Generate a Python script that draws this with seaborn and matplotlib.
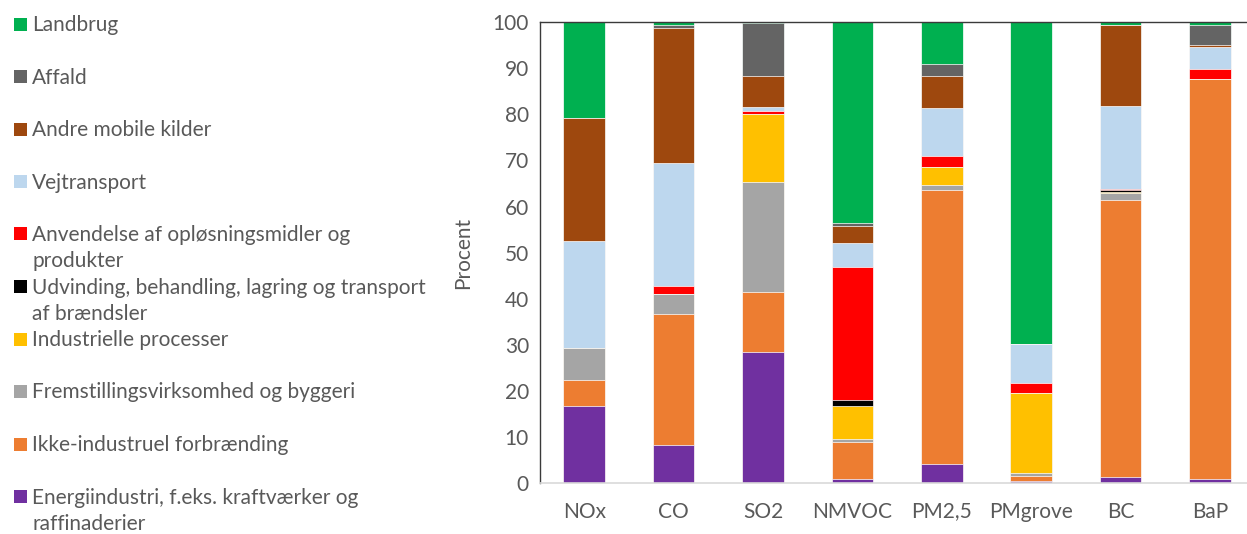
import numpy as np
import pandas as pd
import matplotlib
matplotlib.use("Agg")
import matplotlib.pyplot as plt
from matplotlib.patches import Rectangle
import seaborn as sns

# Pollutants on the x axis
pollutants = ["NOx", "CO", "SO2", "NMVOC", "PM2,5", "PMgrove", "BC", "BaP"]

# Share (%) of each source sector, stacked from the bottom up
energiindustri = [16.8, 8.4, 28.5, 1.0, 4.3, 0.6, 1.4, 0.9]
ikke_industruel = [5.7, 28.3, 13.0, 8.0, 59.4, 1.0, 60.1, 86.7]
fremstilling = [6.8, 4.3, 23.9, 0.6, 1.0, 0.7, 1.5, 0.0]
industrielle = [0.0, 0.0, 14.7, 7.1, 3.9, 17.2, 0.2, 0.0]
udvinding = [0.0, 0.0, 0.0, 1.4, 0.0, 0.0, 0.3, 0.0]
anvendelse = [0.0, 1.8, 0.6, 28.8, 2.3, 2.2, 0.4, 2.2]
vejtransport = [23.2, 26.7, 0.8, 5.2, 10.4, 8.6, 17.8, 4.7]
andre_mobile = [26.8, 29.1, 6.9, 3.7, 7.1, 0.0, 17.7, 0.5]
affald = [0.0, 0.7, 11.4, 0.6, 2.6, 0.0, 0.0, 4.4]
landbrug = [20.7, 0.7, 0.2, 43.6, 9.0, 69.7, 0.6, 0.6]

sector_labels = [
    "Energiindustri, f.eks. kraftværker og\nraffinaderier",
    "Ikke-industruel forbrænding",
    "Fremstillingsvirksomhed og byggeri",
    "Industrielle processer",
    "Udvinding, behandling, lagring og transport\naf brændsler",
    "Anvendelse af opløsningsmidler og\nprodukter",
    "Vejtransport",
    "Andre mobile kilder",
    "Affald",
    "Landbrug",
]
sector_values = [energiindustri, ikke_industruel, fremstilling, industrielle,
                 udvinding, anvendelse, vejtransport, andre_mobile, affald, landbrug]
sector_colors = ["#7030A0", "#ED7D31", "#A5A5A5", "#FFC000", "#000000",
                 "#FF0000", "#BDD7EE", "#9E480E", "#646464", "#00B050"]

text_color = "#595959"
fs = 15
sns.set_theme(style="white")
plt.rcParams["font.family"] = ["Lato", "DejaVu Sans"]

fig = plt.figure(figsize=(12.47, 5.34), dpi=100)
ax = fig.add_axes([0.4331, 0.0946, 1.0056 - 0.4331, 0.9588 - 0.0946])

df = pd.DataFrame(np.array(sector_values).T, columns=sector_labels)
df.insert(0, "Pollutant", pollutants)
cum = df[sector_labels].cumsum(axis=1)

# Stack by drawing cumulative totals from the top layer down
for label, color in reversed(list(zip(sector_labels, sector_colors))):
    sns.barplot(x=df["Pollutant"], y=cum[label], color=color, saturation=1,
                width=0.466, edgecolor="white", linewidth=0.5, ax=ax)

ax.set_xlim(-0.494, 7.494)
ax.set_ylim(0, 100)
ax.set_yticks(np.arange(0, 101, 10))
ax.set_xlabel("")
ax.set_ylabel("Procent", fontsize=fs, color=text_color, labelpad=14)
ax.tick_params(axis="both", length=0, labelsize=fs, labelcolor=text_color)
ax.tick_params(axis="x", pad=13)
ax.tick_params(axis="y", pad=8)

for side in ["left", "top"]:
    ax.spines[side].set_color("#3a3a3a")
    ax.spines[side].set_linewidth(1.0)
ax.spines["bottom"].set_color("#D9D9D9")
ax.spines["bottom"].set_linewidth(1.2)
ax.spines["right"].set_visible(False)

# Legend, top entry first
W, H = 1247, 534
slot = 52.5
for i, (label, color) in enumerate(reversed(list(zip(sector_labels, sector_colors)))):
    yc = 24 + i * slot
    fig.add_artist(Rectangle((14 / W, 1 - (yc + 6.5) / H), 13 / W, 13 / H,
                             transform=fig.transFigure, facecolor=color,
                             edgecolor="none"))
    fig.text(32 / W, 1 - (yc - 9) / H, label, fontsize=fs, color=text_color,
             ha="left", va="top", linespacing=1.4)

fig.savefig("out.png", dpi=100)
